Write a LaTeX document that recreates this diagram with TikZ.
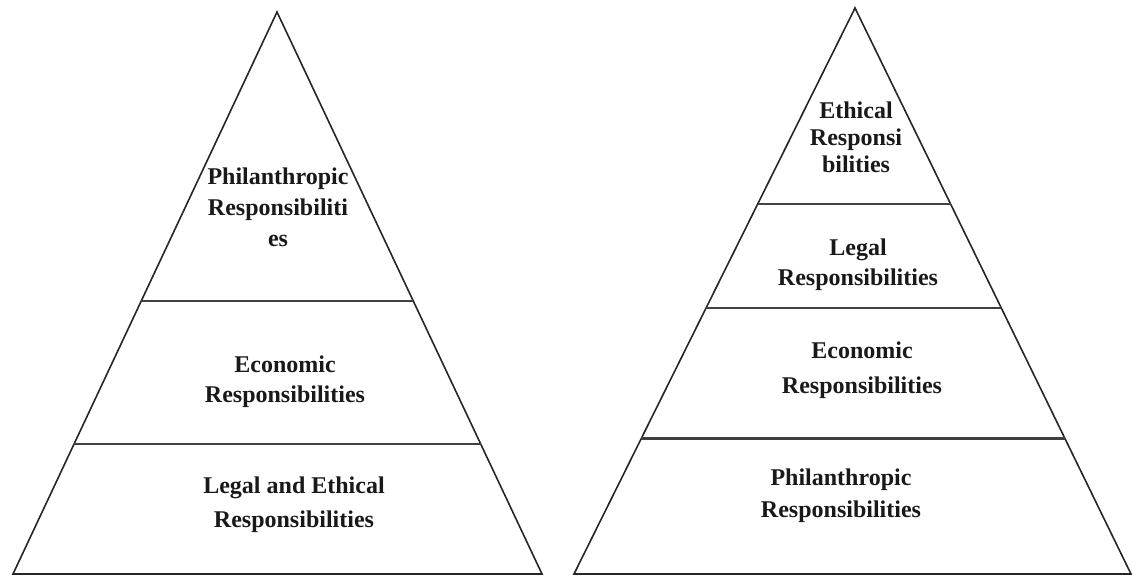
\documentclass[tikz,border=0pt]{standalone}
\usepackage{fontspec}
\setmainfont{Liberation Serif}
\usetikzlibrary{calc}

\begin{document}
\begin{tikzpicture}
    [
    x=1pt, y=-1pt,
    side/.style={draw=black!85, line width=1.6pt, line join=miter},
    layer/.style={draw=black!75, line width=2.6pt},
    tier/.style={align=center, inner sep=0pt, text=black!90, font=\fontsize{24}{#1}\selectfont\bfseries},
    tier/.default=30
    ]
\useasboundingbox (0,0) rectangle (1132,578);
% left pyramid
\coordinate (a1) at (277,12);
\coordinate (l1) at (13,574);
\coordinate (r1) at (542,574);
\draw[side] (a1) -- (l1) -- (r1) -- cycle;
\draw[layer] ($(a1)!0.514!(l1)$) -- ($(a1)!0.514!(r1)$);
\draw[layer] ($(a1)!0.769!(l1)$) -- ($(a1)!0.769!(r1)$);
\node[tier=31] (phil1) at (278,207) {Philanthropic\\Responsibiliti\\es};
\node[tier] (econ1) at (285,382) {Economic\\Responsibilities};
\node[tier=34] (legal1) at (294,505) {Legal and Ethical\\Responsibilities};
% right pyramid
\coordinate (a2) at (855,8);
\coordinate (l2) at (574,574);
\coordinate (r2) at (1131,574);
\draw[side] (a2) -- (l2) -- (r2) -- cycle;
\draw[layer] ($(a2)!0.346!(l2)$) -- ($(a2)!0.346!(r2)$);
\draw[layer] ($(a2)!0.530!(l2)$) -- ($(a2)!0.530!(r2)$);
\draw[layer] ($(a2)!0.761!(l2)$) -- ($(a2)!0.761!(r2)$);
\node[tier=27] (eth2) at (856,137) {Ethical\\Responsi\\bilities};
\node[tier] (legal2) at (858,265) {Legal\\Responsibilities};
\node[tier=35] (econ2) at (862,370) {Economic\\Responsibilities};
\node[tier=32] (phil2) at (841,496) {Philanthropic\\Responsibilities};
\end{tikzpicture}
\end{document}
